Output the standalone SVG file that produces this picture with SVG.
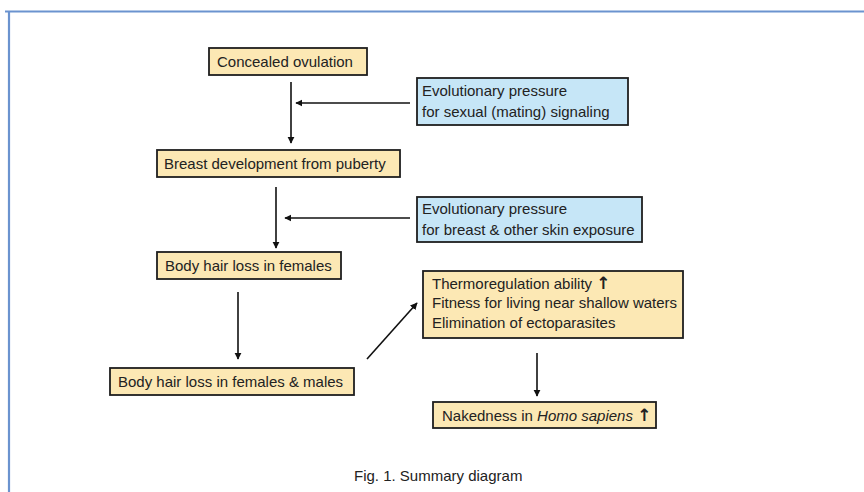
<svg xmlns="http://www.w3.org/2000/svg" width="864" height="492" viewBox="0 0 864 492">
<style>
  .tan{fill:#fce8b4;stroke:#1e1e1e;stroke-width:1.8}
  .blue{fill:#c6e6f7;stroke:#1e1e1e;stroke-width:1.8}
  text{font-family:"Liberation Sans",Arial,sans-serif;font-size:15px;fill:#222}
  .up{font-family:"DejaVu Sans",sans-serif;font-weight:bold;font-size:17px}
  .conn line{stroke:#111;stroke-width:1.6;marker-end:url(#ah)}
</style>
<defs>
  <marker id="ah" viewBox="0 0 10 10" refX="9" refY="5" markerWidth="4.5" markerHeight="4.5" orient="auto" markerUnits="strokeWidth">
    <path d="M0,0 L10,5 L0,10 z" fill="#111"/>
  </marker>
</defs>
<rect width="864" height="492" fill="#ffffff"/>
<g id="frame">
  <line x1="5" y1="11.5" x2="864" y2="11.5" stroke="#6b93cf" stroke-width="2.2"/>
  <line x1="9" y1="11" x2="9" y2="492" stroke="#6b93cf" stroke-width="2.2"/>
</g>
<g id="n-concealed">
  <rect class="tan" x="209" y="48" width="158" height="27"/>
  <text x="217" y="67">Concealed ovulation</text>
</g>
<g id="n-evo1">
  <rect class="blue" x="417" y="78" width="211" height="47"/>
  <text x="422" y="96">Evolutionary pressure</text>
  <text x="422" y="116.5">for sexual (mating) signaling</text>
</g>
<g id="n-breast">
  <rect class="tan" x="157" y="150" width="243" height="27"/>
  <text x="164" y="169">Breast development from puberty</text>
</g>
<g id="n-evo2">
  <rect class="blue" x="417" y="197" width="225" height="45"/>
  <text x="422" y="214">Evolutionary pressure</text>
  <text x="422" y="234.5">for breast &amp; other skin exposure</text>
</g>
<g id="n-females">
  <rect class="tan" x="157" y="252" width="184" height="27"/>
  <text x="165" y="271">Body hair loss in females</text>
</g>
<g id="n-both">
  <rect class="tan" x="110" y="368" width="244" height="27"/>
  <text x="118" y="387">Body hair loss in females &amp; males</text>
</g>
<g id="n-thermo">
  <rect class="tan" x="423" y="271" width="260" height="67"/>
  <text x="432" y="288.5">Thermoregulation ability <tspan class="up">↑</tspan></text>
  <text x="432" y="308">Fitness for living near shallow waters</text>
  <text x="432" y="327.5">Elimination of ectoparasites</text>
</g>
<g id="n-naked">
  <rect class="tan" x="433" y="402" width="223" height="26"/>
  <text x="442" y="420.5">Nakedness in <tspan font-style="italic">Homo sapiens</tspan> <tspan class="up">↑</tspan></text>
</g>
<g class="conn" id="connectors">
  <line x1="291" y1="82" x2="291" y2="143"/>
  <line x1="410" y1="103" x2="296" y2="103"/>
  <line x1="276" y1="187" x2="276" y2="248"/>
  <line x1="410" y1="218" x2="285" y2="218"/>
  <line x1="238" y1="292" x2="238" y2="359"/>
  <line x1="367" y1="359" x2="417" y2="303"/>
  <line x1="537" y1="353" x2="537" y2="396"/>
</g>
<text id="caption" x="354" y="481">Fig. 1. Summary diagram</text>
</svg>
